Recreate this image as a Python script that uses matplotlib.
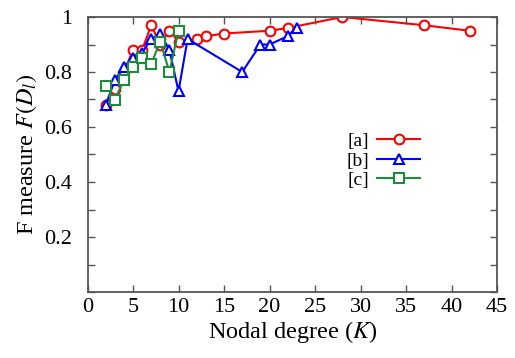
import matplotlib
matplotlib.use("Agg")
import matplotlib.pyplot as plt
from matplotlib.ticker import MultipleLocator

plt.rcParams['font.family'] = ['Liberation Serif', 'DejaVu Serif']
plt.rcParams['mathtext.fontset'] = 'stix'

# Series [a]
k_a = [2, 3, 4, 5, 6, 7, 8, 9, 10, 12, 13, 15, 20, 22, 28, 37, 42]
f_a = [0.68, 0.74, 0.80, 0.88, 0.88, 0.97, 0.90, 0.95, 0.91, 0.92, 0.93, 0.94, 0.95, 0.96, 1.00, 0.97, 0.95]
# Series [b]
k_b = [2, 3, 4, 5, 6, 7, 8, 9, 10, 11, 17, 19, 20, 22, 23]
f_b = [0.68, 0.77, 0.82, 0.85, 0.87, 0.92, 0.94, 0.88, 0.73, 0.92, 0.80, 0.90, 0.90, 0.93, 0.96]
# Series [c]
k_c = [2, 3, 4, 5, 6, 7, 8, 9, 10]
f_c = [0.75, 0.70, 0.77, 0.82, 0.85, 0.83, 0.91, 0.80, 0.95]

labels = ['[a]', '[b]', '[c]']
colors = ['#ff0000', '#0000ff', '#1e8c3a']
markers = ['o', '^', 's']

x_ticks = [0, 5, 10, 15, 20, 25, 30, 35, 40, 45]
y_ticks = [0.2, 0.4, 0.6, 0.8, 1.0]
y_ticklabels = ['0.2', '0.4', '0.6', '0.8', '1']

fig = plt.figure(figsize=(5.15, 3.58), dpi=100)
ax = fig.add_axes([87.5/515, 1 - 292/358, (497 - 87.5)/515, (292 - 17)/358])

for k, f, lab, c, m in zip([k_a, k_b, k_c], [f_a, f_b, f_c], labels, colors, markers):
    ax.plot(k, f, color=c, marker=m, markersize=7, markerfacecolor='white',
            markeredgecolor=c, markeredgewidth=1.5, linewidth=1.5, label=lab)

ax.set_xlim(0, 45)
ax.set_ylim(0, 1)
ax.set_xticks(x_ticks)
ax.set_yticks(y_ticks)
ax.set_yticklabels(y_ticklabels)
ax.yaxis.set_minor_locator(MultipleLocator(0.1))
ax.tick_params(which='both', direction='in', top=True, right=True, length=5,
               width=1, color='#555555', labelsize=16)
ax.tick_params(axis='x', pad=4)
ax.tick_params(axis='y', pad=11)
ax.tick_params(which='minor', length=5)
for s in ax.spines.values():
    s.set_color('#555555')
    s.set_linewidth(1.3)

ax.set_xlabel('Nodal degree ($K$)', fontsize=17.5, labelpad=2)
ax.set_ylabel('F measure $F(D_l)$', fontsize=17.5, labelpad=4)

leg = ax.legend(loc='upper left', bbox_to_anchor=(0.6, 0.63), frameon=False,
                markerfirst=False, fontsize=14, handlelength=2.2,
                labelspacing=0.1, handletextpad=0.4, borderpad=0.2)

fig.savefig('out.png', dpi=100)
